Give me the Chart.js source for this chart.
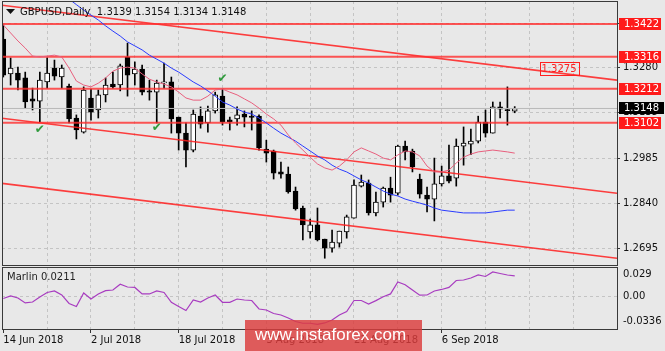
<!DOCTYPE html>
<html>
<head>
<meta charset="utf-8">
<script src="https://cdn.jsdelivr.net/npm/chart.js@4.4.1/dist/chart.umd.min.js"></script>
<style>
  html, body { margin: 0; padding: 0; background: #e8e8e8; }
  #wrap { position: relative; width: 665px; height: 351px; overflow: hidden; }
  canvas { position: absolute; left: 0; }
  #priceCanvas { top: 0; }
  #marlinCanvas { top: 266px; }
</style>
</head>
<body>
<div id="wrap">
  <canvas id="priceCanvas" width="665" height="266"></canvas>
  <canvas id="marlinCanvas" width="665" height="85"></canvas>
</div>
<script>
// GBPUSD daily bars, 14 Jun 2018 .. 20 Sep 2018 (index = bar number)
const opens = [
  1.3373, 1.3260, 1.3263, 1.3247, 1.3179, 1.3172, 1.3234, 1.3279, 1.3250, 1.3221,
  1.3117, 1.3071, 1.3182, 1.3143, 1.3192, 1.3227, 1.3224, 1.3315, 1.3260, 1.3276,
  1.3205, 1.3201, 1.3231, 1.3234, 1.3120, 1.3068, 1.3013, 1.3123, 1.3101, 1.3140,
  1.3188, 1.3111, 1.3114, 1.3130, 1.3123, 1.3123, 1.3016, 1.3010, 1.2942, 1.2935,
  1.2880, 1.2825, 1.2747, 1.2770, 1.2724, 1.2695, 1.2711, 1.2747, 1.2792, 1.2896,
  1.2906, 1.2809, 1.2844, 1.2890, 1.2873, 1.3026, 1.3010, 1.2919, 1.2867, 1.2854,
  1.2903, 1.2929, 1.2922, 1.3026, 1.3032, 1.3042, 1.3104, 1.3068, 1.3153, 1.3143,
  1.3139
];
const highs = [
  1.3419, 1.3312, 1.3282, 1.3266, 1.3214, 1.3266, 1.3312, 1.3305, 1.3289, 1.3227,
  1.3127, 1.3218, 1.3211, 1.3208, 1.3247, 1.3266, 1.3292, 1.3360, 1.3299, 1.3289,
  1.3240, 1.3240, 1.3295, 1.3250, 1.3120, 1.3101, 1.3143, 1.3153, 1.3156, 1.3201,
  1.3211, 1.3120, 1.3153, 1.3140, 1.3140, 1.3127, 1.3045, 1.3013, 1.2974, 1.2958,
  1.2893, 1.2831, 1.2789, 1.2825, 1.2724, 1.2753, 1.2750, 1.2802, 1.2916, 1.2932,
  1.2916, 1.2877, 1.2893, 1.2925, 1.3029, 1.3042, 1.3016, 1.2935, 1.2893, 1.2987,
  1.2961, 1.3029, 1.3049, 1.3088, 1.3081, 1.3123, 1.3143, 1.3169, 1.3169, 1.3218,
  1.3154
];
const lows = [
  1.3250, 1.3224, 1.3208, 1.3149, 1.3143, 1.3104, 1.3214, 1.3240, 1.3214, 1.3101,
  1.3049, 1.3068, 1.3110, 1.3117, 1.3169, 1.3214, 1.3205, 1.3188, 1.3224, 1.3192,
  1.3175, 1.3101, 1.3214, 1.3068, 1.3013, 1.2958, 1.3007, 1.3084, 1.3071, 1.3133,
  1.3094, 1.3078, 1.3094, 1.3088, 1.3078, 1.3013, 1.2974, 1.2919, 1.2922, 1.2873,
  1.2818, 1.2721, 1.2727, 1.2718, 1.2662, 1.2682, 1.2698, 1.2727, 1.2792, 1.2893,
  1.2802, 1.2799, 1.2828, 1.2844, 1.2867, 1.2981, 1.2942, 1.2857, 1.2812, 1.2783,
  1.2896, 1.2906, 1.2896, 1.2964, 1.2998, 1.3036, 1.3055, 1.3068, 1.3117, 1.3094,
  1.3134
];
const closes = [
  1.3256, 1.3279, 1.3240, 1.3169, 1.3172, 1.3240, 1.3263, 1.3253, 1.3279, 1.3114,
  1.3078, 1.3208, 1.3136, 1.3192, 1.3224, 1.3218, 1.3286, 1.3256, 1.3276, 1.3201,
  1.3201, 1.3230, 1.3233, 1.3114, 1.3068, 1.3013, 1.3130, 1.3097, 1.3140, 1.3192,
  1.3104, 1.3105, 1.3127, 1.3120, 1.3119, 1.3020, 1.3003, 1.2938, 1.2935, 1.2877,
  1.2822, 1.2770, 1.2770, 1.2721, 1.2695, 1.2714, 1.2750, 1.2796, 1.2899, 1.2909,
  1.2809, 1.2844, 1.2890, 1.2867, 1.3026, 1.3007, 1.2958, 1.2870, 1.2854, 1.2903,
  1.2929, 1.2912, 1.3026, 1.3036, 1.3042, 1.3104, 1.3068, 1.3153, 1.3146, 1.3141,
  1.3148
];

// moving averages (pink fast, blue slow)
const maFast = [
  1.3419, 1.3393, 1.3367, 1.3344, 1.3318, 1.3315, 1.3318, 1.3321, 1.3315, 1.3279,
  1.3237, 1.3224, 1.3218, 1.3230, 1.3247, 1.3269, 1.3279, 1.3282, 1.3279, 1.3260,
  1.3243, 1.3234, 1.3227, 1.3218, 1.3201, 1.3182, 1.3175, 1.3175, 1.3188, 1.3208,
  1.3211, 1.3201, 1.3192, 1.3179, 1.3166, 1.3149, 1.3130, 1.3114, 1.3094, 1.3062,
  1.3036, 1.3013, 1.2990, 1.2968, 1.2955, 1.2948, 1.2961, 1.2981, 1.3007, 1.3020,
  1.3010, 1.3000, 1.2987, 1.2981, 1.2997, 1.3010, 1.3007, 1.2994, 1.2961, 1.2942,
  1.2942, 1.2948, 1.2971, 1.2990, 1.3000, 1.3007, 1.3010, 1.3013, 1.3010, 1.3007,
  1.3003
];
const maSlow = [
  1.3656, 1.3639, 1.3623, 1.3604, 1.3588, 1.3571, 1.3555, 1.3536, 1.3519, 1.3503,
  1.3485, 1.3467, 1.3451, 1.3435, 1.3416, 1.3399, 1.3383, 1.3364, 1.3351, 1.3338,
  1.3321, 1.3308, 1.3295, 1.3279, 1.3266, 1.3250, 1.3234, 1.3221, 1.3205, 1.3188,
  1.3169, 1.3159, 1.3146, 1.3136, 1.3130, 1.3117, 1.3101, 1.3084, 1.3068, 1.3055,
  1.3042, 1.3026, 1.3010, 1.2994, 1.2981, 1.2964, 1.2951, 1.2942, 1.2929, 1.2916,
  1.2906, 1.2893, 1.2880, 1.2870, 1.2864, 1.2854, 1.2847, 1.2841, 1.2834, 1.2825,
  1.2818, 1.2815, 1.2812, 1.2809, 1.2809, 1.2809, 1.2809, 1.2812, 1.2815, 1.2818,
  1.2818
];

// Marlin oscillator
const marlin = [
  -0.0027, 0.0007, -0.0020, -0.0087, -0.0074, -0.0007, 0.0054, 0.0074, 0.0020, -0.0094,
  -0.0134, 0.0047, -0.0034, 0.0034, 0.0078, 0.0087, 0.0164, 0.0127, 0.0121, 0.0034,
  0.0034, 0.0074, 0.0054, -0.0078, -0.0134, -0.0188, -0.0047, -0.0074, -0.0020, 0.0020,
  -0.0078, -0.0078, -0.0034, -0.0047, -0.0054, -0.0168, -0.0181, -0.0228, -0.0248, -0.0288,
  -0.0335, -0.0359, -0.0359, -0.0375, -0.0355, -0.0315, -0.0248, -0.0201, -0.0054, -0.0054,
  -0.0101, -0.0056, -0.0004, 0.0034, 0.0194, 0.0158, 0.0087, 0.0017, 0.0020, 0.0074,
  0.0094, 0.0121, 0.0214, 0.0221, 0.0248, 0.0288, 0.0268, 0.0328, 0.0308, 0.0288,
  0.0275
];
const marlinTitle = 'Marlin 0.0211';

// horizontal levels, descending channel (price at left / right edge)
const levelPrices = [1.3422, 1.3316, 1.3212, 1.3102];
const channelStart = [1.3483, 1.3116, 1.2905];
const channelEnd = [1.3240, 1.2873, 1.2662];
const channelTag = { bar: 73.4, price: 1.3275, text: '1.3275' };

// check marks
const checkBars = [5, 21, 30];
const checkPrices = [1.3078, 1.3084, 1.3243];

// axes
const priceTicks = [1.2695, 1.2840, 1.2985, 1.3135, 1.3280, 1.3425];
const marlinTicks = [-0.0336, 0, 0.029];
const marlinTickLabels = ['-0.0336', '0.00', '0.029'];
const dateBars = [0, 12, 24, 36, 48, 60];
const dateLabels = ['14 Jun 2018', '2 Jul 2018', '18 Jul 2018', '3 Aug 2018', '21 Aug 2018', '6 Sep 2018'];

const X_MIN = -0.18, X_MAX = 84.0;
const PRICE_MIN = 1.2640, PRICE_MAX = 1.34967;
const MARLIN_MIN = -0.0436, MARLIN_MAX = 0.0395;

const FONT = '"DejaVu Sans", sans-serif';
const BG = '#e8e8e8';
const GRID = '#c4c4c4';
const LEVEL_RED = 'rgba(255, 45, 45, 0.8)';

const bars = opens.map((_, i) => i);
const gridBars = [];
for (let b = 6; b < X_MAX; b += 6) gridBars.push(b);

function flat(price) {
  return [{ x: X_MIN, y: price }, { x: X_MAX, y: price }];
}

// 배경 + 테두리
const framePlugin = {
  id: 'frame',
  beforeDraw(chart) {
    const ctx = chart.ctx;
    ctx.save();
    ctx.fillStyle = BG;
    ctx.fillRect(0, 0, chart.width, chart.height);
    ctx.restore();
  },
  afterDatasetsDraw(chart) {
    const a = chart.chartArea;
    const ctx = chart.ctx;
    ctx.save();
    ctx.strokeStyle = '#3a3a3a';
    ctx.lineWidth = 1;
    ctx.strokeRect(a.left + 0.5, a.top + 0.5, a.right - a.left, a.bottom - a.top);
    ctx.restore();
  }
};

// price tags, check marks, channel tag, title
const pricePanelPlugin = {
  id: 'pricePanel',
  afterDraw(chart) {
    const ctx = chart.ctx;
    const xs = chart.scales.x, ys = chart.scales.y;
    const a = chart.chartArea;
    ctx.save();
    ctx.font = '10px ' + FONT;
    ctx.textBaseline = 'middle';
    ctx.textAlign = 'left';

    levelPrices.forEach(p => {
      const y = Math.round(ys.getPixelForValue(p));
      ctx.fillStyle = '#ff1a1a';
      ctx.fillRect(a.right + 2, y - 6, 42, 12);
      ctx.fillStyle = '#ffffff';
      ctx.fillText(p.toFixed(4), a.right + 7, y);
    });

    const last = closes[closes.length - 1];
    const yb = Math.round(ys.getPixelForValue(last));
    ctx.fillStyle = '#000000';
    ctx.fillRect(a.right + 2, yb - 6, 45, 12);
    ctx.fillStyle = '#ffffff';
    ctx.fillText(last.toFixed(4), a.right + 7, yb);

    // channel price tag
    const tx = xs.getPixelForValue(channelTag.bar);
    const ty = Math.round(ys.getPixelForValue(channelTag.price));
    const tw = ctx.measureText(channelTag.text).width + 4;
    ctx.strokeStyle = '#ff2020';
    ctx.lineWidth = 1;
    ctx.strokeRect(Math.round(tx) + 0.5, ty - 6.5, Math.round(tw), 13);
    ctx.fillStyle = '#ff2020';
    ctx.fillText(channelTag.text, tx + 2, ty);

    // check marks
    ctx.font = 'bold 12px ' + FONT;
    ctx.textAlign = 'center';
    ctx.fillStyle = '#2f9a3c';
    checkBars.forEach((b, i) => {
      ctx.fillText('\u2714', xs.getPixelForValue(b), ys.getPixelForValue(checkPrices[i]));
    });

    // title
    ctx.fillStyle = '#111111';
    ctx.beginPath();
    ctx.moveTo(6, 9); ctx.lineTo(15, 9); ctx.lineTo(10.5, 14); ctx.closePath();
    ctx.fill();
    ctx.font = '10px ' + FONT;
    ctx.textAlign = 'left';
    const n = opens.length - 1;
    const title = 'GBPUSD,Daily  ' + [opens[n], highs[n], lows[n], closes[n]].map(v => v.toFixed(4)).join(' ');
    ctx.fillText(title, 20, 12);
    ctx.restore();
  }
};

const marlinPanelPlugin = {
  id: 'marlinPanel',
  afterDraw(chart) {
    const ctx = chart.ctx;
    const a = chart.chartArea;
    ctx.save();
    ctx.font = '10px ' + FONT;
    ctx.fillStyle = '#222222';
    ctx.textBaseline = 'middle';
    ctx.fillText(marlinTitle, a.left + 5, a.top + 10.5);

    // watermark
    ctx.fillStyle = 'rgba(220, 60, 60, 0.82)';
    ctx.fillRect(245, chart.height - 31, 177, 31);
    ctx.fillStyle = '#ffffff';
    ctx.font = '17px "Liberation Sans", Arial, sans-serif';
    ctx.textBaseline = 'alphabetic';
    ctx.fillText('www.instaforex.com', 255, chart.height - 11);
    ctx.restore();
  }
};

// 가격 차트
new Chart(document.getElementById('priceCanvas'), {
  type: 'bar',
  data: {
    datasets: [
      {
        type: 'bar', order: 6, grouped: false,
        data: bars.map(i => ({ x: i, y: [lows[i], highs[i]] })),
        backgroundColor: '#000000', barThickness: 1
      },
      {
        type: 'bar', order: 5, grouped: false,
        data: bars.map(i => ({ x: i, y: [opens[i], closes[i]] })),
        backgroundColor: bars.map(i => closes[i] >= opens[i] ? '#ffffff' : '#000000'),
        borderColor: '#000000', borderWidth: 1, borderSkipped: false,
        barThickness: 5, minBarLength: 1
      },
      {
        type: 'line', order: 4, data: flat(closes[closes.length - 1]),
        borderColor: '#b8b8b8', borderWidth: 1, pointRadius: 0, clip: 0
      },
      ...levelPrices.map(p => ({
        type: 'line', order: 3, data: flat(p),
        borderColor: LEVEL_RED, borderWidth: 2, pointRadius: 0, clip: 0
      })),
      ...channelStart.map((p, k) => ({
        type: 'line', order: 3,
        data: [{ x: X_MIN, y: p }, { x: X_MAX, y: channelEnd[k] }],
        borderColor: 'rgba(255, 30, 30, 0.85)', borderWidth: 1.6, pointRadius: 0, clip: 0
      })),
      {
        type: 'line', order: 1, data: bars.map(i => ({ x: i, y: maFast[i] })),
        borderColor: '#e8607e', borderWidth: 1, pointRadius: 0, tension: 0, clip: 0
      },
      {
        type: 'line', order: 1, data: bars.map(i => ({ x: i, y: maSlow[i] })),
        borderColor: '#2a3cff', borderWidth: 1, pointRadius: 0, tension: 0, clip: 0
      }
    ]
  },
  options: {
    responsive: false,
    animation: false,
    devicePixelRatio: 1,
    layout: { padding: { left: 2, top: 1, right: 0, bottom: 1 } },
    plugins: { legend: { display: false }, tooltip: { enabled: false } },
    scales: {
      x: {
        type: 'linear', min: X_MIN, max: X_MAX, offset: false,
        grid: { color: GRID, offset: false, drawTicks: false },
        border: { display: false, dash: [3, 3] },
        ticks: { display: false },
        afterBuildTicks: s => { s.ticks = gridBars.map(v => ({ value: v })); },
        afterFit: s => { s.height = 0; s.paddingLeft = 0; s.paddingRight = 0; }
      },
      y: {
        position: 'right', min: PRICE_MIN, max: PRICE_MAX,
        grid: { color: GRID, tickLength: 3, tickColor: '#333333' },
        border: { display: false, dash: [3, 3] },
        ticks: {
          color: '#111111', padding: 3, font: { family: FONT, size: 10 },
          callback: v => v.toFixed(4)
        },
        afterBuildTicks: s => { s.ticks = priceTicks.map(v => ({ value: v })); },
        afterFit: s => { s.width = 48; s.paddingTop = 0; s.paddingBottom = 0; }
      }
    }
  },
  plugins: [framePlugin, pricePanelPlugin]
});

// Marlin 차트
const marlinTickBars = [0].concat(gridBars);
new Chart(document.getElementById('marlinCanvas'), {
  type: 'line',
  data: {
    datasets: [{
      data: bars.map(i => ({ x: i, y: marlin[i] })),
      borderColor: '#a83cc0', borderWidth: 1.2, pointRadius: 0, tension: 0, clip: 0
    }]
  },
  options: {
    responsive: false,
    animation: false,
    devicePixelRatio: 1,
    layout: { padding: { left: 2, top: 1, right: 0, bottom: 0 } },
    plugins: { legend: { display: false }, tooltip: { enabled: false } },
    scales: {
      x: {
        type: 'linear', min: X_MIN, max: X_MAX, offset: false,
        grid: {
          color: c => (c.tick && c.tick.value === 0) ? 'rgba(0,0,0,0)' : GRID,
          tickLength: 4,
          tickColor: c => (c.tick && dateBars.includes(c.tick.value)) ? '#333333' : 'rgba(0,0,0,0)'
        },
        border: { display: false, dash: [3, 3] },
        ticks: {
          color: '#111111', padding: 1, align: 'start', autoSkip: false, maxRotation: 0,
          font: { family: FONT, size: 10 },
          callback: v => { const k = dateBars.indexOf(v); return k >= 0 ? dateLabels[k] : ''; }
        },
        afterBuildTicks: s => { s.ticks = marlinTickBars.map(v => ({ value: v })); },
        afterFit: s => { s.height = 22; s.paddingLeft = 0; s.paddingRight = 0; }
      },
      y: {
        position: 'right', min: MARLIN_MIN, max: MARLIN_MAX,
        grid: {
          color: c => (c.tick && c.tick.value === 0) ? GRID : 'rgba(0,0,0,0)',
          tickLength: 3, tickColor: 'rgba(0,0,0,0)'
        },
        border: { display: false, dash: [3, 3] },
        ticks: {
          color: '#111111', padding: 3, font: { family: FONT, size: 10 },
          callback: (v, i) => marlinTickLabels[i]
        },
        afterBuildTicks: s => { s.ticks = marlinTicks.map(v => ({ value: v })); },
        afterFit: s => { s.width = 48; s.paddingTop = 0; s.paddingBottom = 0; }
      }
    }
  },
  plugins: [framePlugin, marlinPanelPlugin]
});
</script>
</body>
</html>
